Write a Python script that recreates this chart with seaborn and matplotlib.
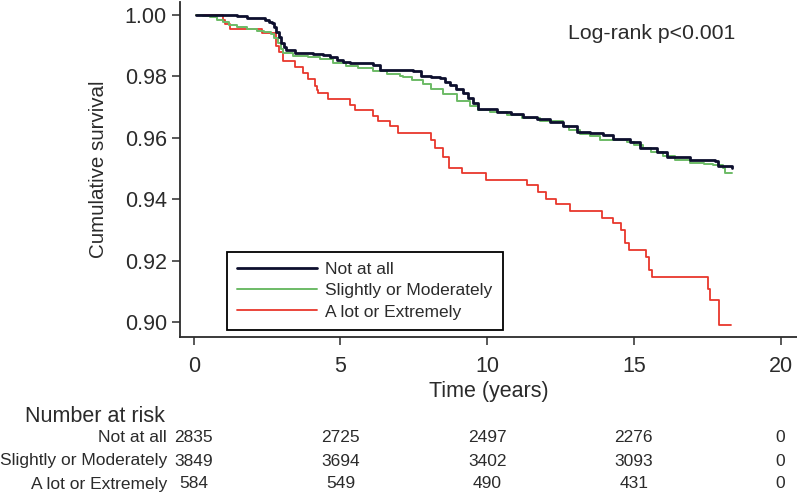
import numpy as np
import pandas as pd
import seaborn as sns
import matplotlib.pyplot as plt
import matplotlib.transforms as mtransforms

# curvas de Kaplan-Meier (tiempo en años, supervivencia)
grupos = ["Not at all", "Slightly or Moderately", "A lot or Extremely"]
colores = ["#0d0f2e", "#6dbb66", "#e8372c"]
grosores = [2.0, 1.4, 1.3]

t_not = [0.09, 1.46, 1.80, 2.42, 2.55, 2.65, 2.75, 2.82, 2.90, 2.99, 3.08, 3.16, 3.44,
         4.07, 4.41, 4.65, 4.87, 5.10, 5.32, 6.11, 6.34, 7.48, 7.76, 8.10, 8.39,
         8.55, 8.73, 8.95, 9.18, 9.35, 9.52, 9.69, 10.32, 10.80, 11.23, 11.70,
         12.14, 12.60, 13.05, 13.50, 13.95, 14.30, 14.87, 15.21, 15.78, 16.12,
         16.91, 17.76, 17.88, 18.33]
s_not = [1.0000, 0.9997, 0.9991, 0.9984, 0.9978, 0.9973, 0.9960, 0.9946, 0.9928, 0.9908,
         0.9895, 0.9886, 0.9877, 0.9874, 0.9870, 0.9862, 0.9853, 0.9848, 0.9843, 0.9837,
         0.9821, 0.9818, 0.9801, 0.9798, 0.9794, 0.9783, 0.9772, 0.9760, 0.9745,
         0.9728, 0.9712, 0.9693, 0.9685, 0.9677, 0.9668, 0.9660, 0.9652, 0.9638,
         0.9620, 0.9614, 0.9609, 0.9595, 0.9587, 0.9565, 0.9554, 0.9538, 0.9527,
         0.9524, 0.9509, 0.9502]

t_mod = [0.09, 0.30, 0.55, 0.80, 1.00, 1.20, 1.46, 1.80, 2.14, 2.40, 2.63, 2.75, 2.88,
         2.97, 3.04, 3.39, 3.90, 4.29, 4.75, 5.20, 5.60, 6.12, 6.60, 7.03, 7.14, 7.45,
         7.82, 8.10, 8.50, 8.96, 9.41, 9.69, 10.10, 10.66, 11.20, 11.80, 12.58, 12.80,
         13.15, 13.50, 13.84, 14.75, 15.00, 15.30, 15.60, 16.00, 16.40, 16.90, 17.40,
         17.71, 18.05, 18.10, 18.33]
s_mod = [1.0000, 0.9997, 0.9992, 0.9984, 0.9976, 0.9968, 0.9960, 0.9953, 0.9947, 0.9943,
         0.9938, 0.9925, 0.9910, 0.9890, 0.9875, 0.9867, 0.9862, 0.9856, 0.9845, 0.9834,
         0.9826, 0.9817, 0.9808, 0.9801, 0.9799, 0.9788, 0.9774, 0.9760, 0.9741, 0.9719,
         0.9703, 0.9692, 0.9685, 0.9675, 0.9664, 0.9653, 0.9637, 0.9625, 0.9613, 0.9605,
         0.9593, 0.9585, 0.9575, 0.9566, 0.9552, 0.9539, 0.9528, 0.9519, 0.9514, 0.9510,
         0.9500, 0.9486, 0.9486]

t_ext = [0.09, 0.98, 1.05, 1.23, 2.31, 2.82, 2.90, 3.05, 3.45, 3.72, 3.90, 4.12, 4.20,
         4.25, 4.58, 5.32, 5.49, 6.12, 6.28, 6.68, 6.97, 8.10, 8.22, 8.50, 8.71, 9.13,
         9.96, 11.37, 11.74, 12.02, 12.34, 12.82, 13.90, 14.30, 14.55, 14.70, 14.85,
         15.41, 15.50, 15.62, 17.51, 17.58, 17.89, 18.30]
s_ext = [1.0000, 0.9984, 0.9970, 0.9954, 0.9940, 0.9900, 0.9878, 0.9850, 0.9829, 0.9812,
         0.9790, 0.9770, 0.9757, 0.9747, 0.9727, 0.9708, 0.9692, 0.9670, 0.9656, 0.9637,
         0.9617, 0.9592, 0.9565, 0.9538, 0.9500, 0.9484, 0.9462, 0.9446, 0.9424, 0.9402,
         0.9383, 0.9362, 0.9337, 0.9321, 0.9299, 0.9256, 0.9234, 0.9212, 0.9169, 0.9147,
         0.9109, 0.9071, 0.8989, 0.8989]

tiempos = [t_not, t_mod, t_ext]
supervivencia = [s_not, s_mod, s_ext]

# tabla de numero en riesgo
t_riesgo = [0, 5, 10, 15, 20]
riesgo_not = [2835, 2725, 2497, 2276, 0]
riesgo_mod = [3849, 3694, 3402, 3093, 0]
riesgo_ext = [584, 549, 490, 431, 0]
riesgo = [riesgo_not, riesgo_mod, riesgo_ext]

sns.set_style("ticks")
plt.rcParams["font.family"] = ["Liberation Sans", "DejaVu Sans"]
gris = "#2b2b2b"

fig = plt.figure(figsize=(7.97, 4.97), dpi=100)
ax = fig.add_axes([0.2258, 0.3219, 0.7742, 0.6740])

lineas = []
for i in range(3):
    df = pd.DataFrame({"time": tiempos[i], "survival": supervivencia[i]})
    sns.lineplot(data=df, x="time", y="survival", color=colores[i], linewidth=grosores[i],
                 drawstyle="steps-post", estimator=None, sort=False, ax=ax)
    lineas.append(ax.lines[-1])
lineas[0].set_zorder(3.2)
lineas[1].set_zorder(3.1)
lineas[2].set_zorder(3.0)

ax.set_xlim(-0.47, 20.56)
ax.set_ylim(0.8951, 1.0042)
ax.set_xticks([0, 5, 10, 15, 20])
ax.set_yticks([0.90, 0.92, 0.94, 0.96, 0.98, 1.00])
ax.set_yticklabels(["%.2f" % v for v in [0.90, 0.92, 0.94, 0.96, 0.98, 1.00]])
sns.despine(ax=ax)
for lado in ["left", "bottom"]:
    ax.spines[lado].set_linewidth(1.3)
    ax.spines[lado].set_color(gris)
ax.tick_params(axis="both", labelsize=15.5, colors=gris, length=6, width=1.1)
ax.tick_params(axis="x", pad=7.5)
ax.tick_params(axis="y", pad=3.5)

ax.set_xlabel("Time (years)", fontsize=15.5, color=gris, labelpad=3)
ax.set_ylabel("Cumulative survival", fontsize=14.8, color=gris, labelpad=12)

ax.text(0.90, 0.907, "Log-rank p<0.001", transform=ax.transAxes, ha="right", va="center",
        fontsize=15.3, color=gris)

leg = ax.legend(lineas, grupos, loc="lower left", bbox_to_anchor=(0.076, 0.021),
                borderaxespad=0, fontsize=12.5, handlelength=4.6, handletextpad=0.45,
                labelspacing=0.35, borderpad=0.6, fancybox=False, framealpha=1)
leg.get_frame().set_edgecolor("black")
leg.get_frame().set_linewidth(1.3)
for txt in leg.get_texts():
    txt.set_color(gris)

# numero en riesgo debajo del grafico
trans = mtransforms.blended_transform_factory(ax.transData, fig.transFigure)
fig.text(25 / 797, 1 - 417 / 497, "Number at risk", fontsize=15.5, color=gris,
         ha="left", va="center")
filas_y = [438, 461, 484]
for i in range(3):
    yy = 1 - filas_y[i] / 497
    fig.text(167 / 797, yy, grupos[i], fontsize=12.5, color=gris, ha="right", va="center")
    for t, n in zip(t_riesgo, riesgo[i]):
        ax.text(t, yy, str(n), transform=trans, fontsize=12.5, color=gris,
                ha="center", va="center", clip_on=False)

fig.savefig("out.png", dpi=100)
